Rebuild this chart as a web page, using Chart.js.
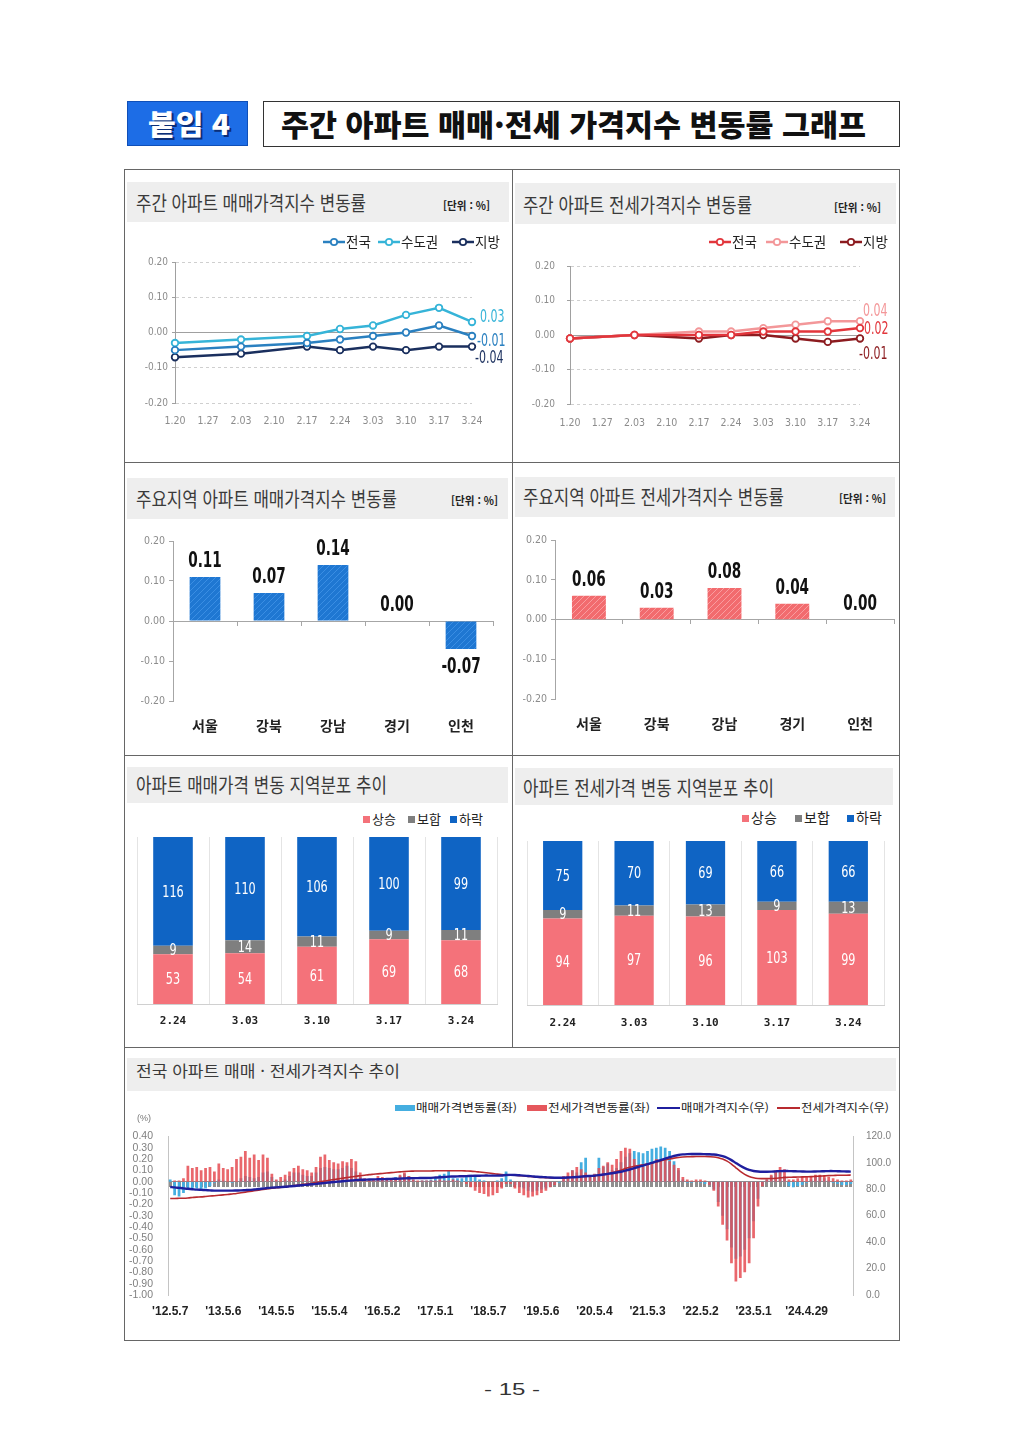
<!DOCTYPE html>
<html lang="ko">
<head>
<meta charset="utf-8">
<title>주간 아파트 매매·전세 가격지수 변동률 그래프</title>
<script src="https://cdn.jsdelivr.net/npm/chart.js@4.4.1/dist/chart.umd.min.js"></script>
<style>
html,body{margin:0;padding:0;background:#fff}
body{width:1024px;height:1447px;position:relative;overflow:hidden;font-family:"Noto Sans CJK KR","Noto Sans",sans-serif;color:#222}
.box{position:absolute;box-sizing:border-box}
canvas{position:absolute}
svg{display:block}
</style>
</head>
<body>

<div class="box" style="left:127px;top:101px;width:121px;height:45px;background:#1d6de6;border:1px solid #0f4fb8"></div>
<div class="box" style="left:263px;top:101px;width:637px;height:46px;border:1px solid #333"></div>
<div class="box" style="left:124px;top:169px;width:776px;height:1172px;border:1px solid #666"></div>
<div class="box" style="left:124px;top:462px;width:776px;height:1px;background:#666"></div>
<div class="box" style="left:124px;top:755px;width:776px;height:1px;background:#666"></div>
<div class="box" style="left:124px;top:1047px;width:776px;height:1px;background:#666"></div>
<div class="box" style="left:512px;top:169px;width:1px;height:878px;background:#666"></div>

<div class="box" style="left:127px;top:182px;width:382px;height:40px;background:#eeeeee"></div>
<div class="box" style="left:515px;top:183px;width:381px;height:41px;background:#eeeeee"></div>
<div class="box" style="left:127px;top:478px;width:381px;height:41px;background:#eeeeee"></div>
<div class="box" style="left:515px;top:477px;width:380px;height:40px;background:#eeeeee"></div>
<div class="box" style="left:127px;top:767px;width:381px;height:36px;background:#eeeeee"></div>
<div class="box" style="left:515px;top:768px;width:378px;height:37px;background:#eeeeee"></div>
<div class="box" style="left:127px;top:1058px;width:769px;height:33px;background:#eeeeee"></div>

<canvas id="saleWeekly" width="385" height="185" style="left:125px;top:250px"></canvas>
<canvas id="jeonseWeekly" width="385" height="190" style="left:512px;top:248px"></canvas>
<canvas id="saleRegionChart" width="385" height="215" style="left:125px;top:530px"></canvas>
<canvas id="jeonseRegionChart" width="385" height="215" style="left:512px;top:530px"></canvas>
<canvas id="saleDist" width="385" height="205" style="left:125px;top:830px"></canvas>
<canvas id="jeonseDist" width="385" height="200" style="left:512px;top:835px"></canvas>
<canvas id="trend" width="772" height="210" style="left:125px;top:1115px"></canvas>

<script>
// =========================
// DATA
// =========================

const weeks = ["1.20","1.27","2.03","2.10","2.17","2.24","3.03","3.10","3.17","3.24"]
const saleNation  = [-0.05,null,-0.04,null,-0.03,-0.02,-0.01,0.00,0.02,-0.01]
const saleCapital = [-0.03,null,-0.02,null,-0.01,0.01,0.02,0.05,0.07,0.03]
const saleLocal   = [-0.07,null,-0.06,null,-0.04,-0.05,-0.04,-0.05,-0.04,-0.04]
const jeonseNation  = [-0.01,null,0.00,null,0.00,0.00,0.01,0.01,0.01,0.02]
const jeonseCapital = [-0.01,null,0.00,null,0.01,0.01,0.02,0.03,0.04,0.04]
const jeonseLocal   = [-0.01,null,0.00,null,-0.01,0.00,0.00,-0.01,-0.02,-0.01]

const regions = ["서울","강북","강남","경기","인천"]
const saleRegion = [0.11,0.07,0.14,0.00,-0.07]
const jeonseRegion = [0.06,0.03,0.08,0.04,0.00]

const distWeeks = ["2.24","3.03","3.10","3.17","3.24"]
const saleUp   = [53,54,61,69,68]
const saleFlat = [9,14,11,9,11]
const saleDown = [116,110,106,100,99]
const jeonseUp   = [94,97,96,103,99]
const jeonseFlat = [9,11,13,9,13]
const jeonseDown = [75,70,69,66,66]

// monthly readings, May 2012 .. Mar 2025
const yearTicks = ["'12.5.7","'13.5.6","'14.5.5","'15.5.4","'16.5.2","'17.5.1","'18.5.7","'19.5.6","'20.5.4","'21.5.3","'22.5.2","'23.5.1","'24.4.29"]

const saleRate = [
0.02,-0.12,-0.13,-0.10,-0.07,-0.07,-0.06,-0.07,-0.06,-0.04,-0.01,0.02,
0.01,0.00,-0.01,0.00,0.03,0.05,0.04,0.03,0.04,0.08,0.09,0.04,
0.01,0.00,0.02,0.05,0.08,0.08,0.06,0.05,0.05,0.08,0.12,0.13,
0.12,0.11,0.11,0.12,0.14,0.12,0.09,0.04,0.01,0.00,0.01,0.02,
0.02,0.03,0.03,0.04,0.05,0.07,0.05,0.02,0.00,0.01,0.01,0.02,
0.04,0.06,0.07,0.10,0.03,0.03,0.03,0.04,0.06,0.04,0.02,0.01,
0.00,0.00,0.01,0.03,0.09,0.02,-0.03,-0.05,-0.06,-0.08,-0.09,-0.08,
-0.07,-0.06,-0.04,-0.02,-0.01,0.02,0.05,0.10,0.08,0.17,0.21,0.05,
0.06,0.21,0.13,0.16,0.10,0.12,0.17,0.22,0.25,0.27,0.26,0.25,
0.27,0.29,0.30,0.31,0.30,0.27,0.18,0.10,0.02,-0.01,-0.01,0.00,
-0.01,-0.02,-0.03,-0.07,-0.18,-0.30,-0.42,-0.58,-0.68,-0.66,-0.60,-0.50,
-0.35,-0.15,-0.03,0.02,0.05,0.08,0.10,0.05,-0.04,-0.05,-0.04,-0.03,
-0.01,0.02,0.04,0.05,0.03,0.01,-0.01,-0.02,-0.03,-0.03,-0.02]

const jeonseRate = [
0.00,0.01,0.01,0.03,0.14,0.12,0.13,0.10,0.12,0.13,0.09,0.16,
0.12,0.11,0.13,0.20,0.22,0.27,0.21,0.24,0.19,0.24,0.21,0.07,
0.02,0.04,0.06,0.09,0.12,0.14,0.11,0.10,0.08,0.13,0.22,0.24,
0.19,0.17,0.16,0.18,0.17,0.20,0.18,0.08,0.03,0.02,0.02,0.05,
0.04,0.02,0.02,0.02,0.06,0.08,0.05,0.02,0.01,0.01,0.01,0.01,
0.01,0.02,0.01,0.01,0.02,0.01,0.00,-0.02,-0.05,-0.08,-0.10,-0.11,
-0.13,-0.12,-0.10,-0.06,-0.02,-0.02,-0.06,-0.10,-0.12,-0.14,-0.13,-0.12,
-0.10,-0.08,-0.05,-0.03,0.00,0.05,0.08,0.10,0.13,0.11,0.08,0.05,
0.07,0.12,0.14,0.17,0.15,0.20,0.27,0.30,0.29,0.20,0.13,0.13,
0.15,0.17,0.20,0.19,0.20,0.18,0.15,0.12,0.04,0.02,0.01,0.02,
0.02,0.01,-0.03,-0.08,-0.22,-0.38,-0.52,-0.72,-0.88,-0.85,-0.80,-0.72,
-0.50,-0.22,-0.04,0.02,0.06,0.10,0.13,0.11,0.02,0.02,0.03,0.04,
0.04,0.05,0.06,0.06,0.05,0.04,0.03,0.02,0.01,0.01,0.02]

const saleIndex = [
81.7,81.4,81.0,80.6,80.3,80.0,79.7,79.5,79.3,79.1,78.9,78.9,
78.9,78.9,78.9,79.0,79.1,79.3,79.5,79.8,80.1,80.5,80.9,81.2,
81.4,81.6,81.8,82.1,82.4,82.8,83.1,83.4,83.7,84.0,84.4,84.8,
85.1,85.4,85.7,86.0,86.3,86.6,86.9,87.1,87.2,87.3,87.4,87.5,
87.6,87.7,87.8,87.9,88.0,88.2,88.3,88.4,88.4,88.5,88.5,88.6,
88.8,89.0,89.2,89.5,89.6,89.7,89.8,89.9,90.1,90.2,90.2,90.3,
90.3,90.3,90.3,90.4,90.7,90.8,90.7,90.5,90.3,90.0,89.7,89.4,
89.2,89.0,88.8,88.7,88.7,88.7,88.8,89.0,89.2,89.5,89.8,90.0,
90.2,90.6,91.1,91.6,92.1,92.6,93.2,94.0,94.9,95.9,96.9,97.9,
98.9,99.9,101.0,102.0,103.1,104.2,105.2,105.9,106.3,106.5,106.6,106.6,
106.6,106.5,106.4,106.2,105.8,105.0,103.8,102.0,99.8,97.7,95.9,94.6,
93.8,93.4,93.2,93.2,93.3,93.5,93.7,93.8,93.7,93.6,93.5,93.4,
93.3,93.3,93.4,93.5,93.6,93.7,93.7,93.6,93.5,93.4,93.3]

const jeonseIndex = [
73.0,73.0,73.1,73.2,73.4,73.7,74.0,74.2,74.5,74.8,75.1,75.4,
75.7,76.0,76.4,76.8,77.3,77.8,78.3,78.8,79.3,79.8,80.3,80.8,
81.1,81.4,81.8,82.2,82.7,83.2,83.7,84.1,84.5,85.0,85.6,86.2,
86.8,87.3,87.8,88.3,88.8,89.3,89.8,90.2,90.6,91.0,91.3,91.6,
91.9,92.2,92.5,92.8,93.1,93.4,93.6,93.7,93.8,93.8,93.8,93.8,
93.9,93.9,93.9,93.9,93.9,93.9,93.9,93.8,93.7,93.4,93.0,92.6,
92.2,91.8,91.4,91.1,90.9,90.8,90.6,90.3,90.0,89.7,89.4,89.1,
88.9,88.7,88.6,88.5,88.5,88.6,88.8,89.0,89.3,89.6,89.8,90.0,
90.2,90.6,91.1,91.7,92.4,93.3,94.4,95.6,96.6,97.3,97.9,98.5,
99.1,99.8,100.6,101.4,102.2,102.9,103.5,104.0,104.3,104.5,104.6,104.7,
104.7,104.7,104.6,104.4,103.8,102.8,101.2,99.0,96.2,93.5,91.2,89.6,
88.6,88.1,88.0,88.0,88.1,88.3,88.6,88.9,89.0,89.1,89.2,89.3,
89.4,89.5,89.7,89.9,90.1,90.3,90.4,90.5,90.6,90.6,90.7]

let months = []
for (let i = 0; i < saleRate.length; i++) {
  let t = 2012 * 12 + 4 + i
  months.push(Math.floor(t / 12) + "." + (t % 12 + 1))
}

// =========================
// PAGE TEXT
// =========================

const NARROW = "'Liberation Sans Narrow','DejaVu Sans Condensed','Liberation Sans',sans-serif"
const SANS = "'Liberation Sans',Arial,sans-serif"
const KR = "'Noto Sans CJK KR','Noto Sans',sans-serif"

function put(x, cy, str, size, w, css) {
  let s = document.createElement("span")
  s.textContent = str
  s.style.cssText = "position:absolute;left:" + x + "px;top:" + (cy - size * 0.55) + "px;font-size:" + size +
    "px;line-height:1;white-space:nowrap;transform-origin:0 0;" + (css || "")
  document.body.appendChild(s)
  if (w) {
    let r = s.getBoundingClientRect().width
    s.style.transform = "scaleX(" + (w / r) + ")"
  }
  return s
}

function lineKey(x, cy, color, str) {
  let d = document.createElement("div")
  d.style.cssText = "position:absolute;left:" + x + "px;top:" + (cy - 5) + "px;width:22px;height:10px;line-height:0"
  d.innerHTML = '<svg width="22" height="10"><line x1="0" y1="5" x2="22" y2="5" stroke="' + color +
    '" stroke-width="2.5"/><circle cx="11" cy="5" r="3.2" fill="#fff" stroke="' + color + '" stroke-width="1.8"/></svg>'
  document.body.appendChild(d)
  put(x + 23, cy, str, 13.5, 0, "color:#222")
}

function boxKey(x, cy, color, str, size) {
  let d = document.createElement("div")
  d.style.cssText = "position:absolute;left:" + x + "px;top:" + (cy - 3.5) + "px;width:7px;height:7px;background:" + color
  document.body.appendChild(d)
  put(x + 9, cy, str, size, 0, "color:#222")
}

function barKey(x, cy, w, h, color, str, tw) {
  let d = document.createElement("div")
  d.style.cssText = "position:absolute;left:" + x + "px;top:" + (cy - h / 2) + "px;width:" + w + "px;height:" + h + "px;background:" + color
  document.body.appendChild(d)
  put(x + w + 1, cy, str, 11, tw, "color:#222")
}

// header
put(148, 124, "붙임 4", 28, 82, "color:#fff;font-weight:900;text-shadow:2px 2px 0 #0b2e78")
put(281, 124, "주간 아파트 매매·전세 가격지수 변동률 그래프", 30, 585, "color:#111;font-weight:900")

// panel titles
const titleCss = "color:#3a3a3a"
put(136, 204, "주간 아파트 매매가격지수 변동률", 20, 230, titleCss)
put(523, 206, "주간 아파트 전세가격지수 변동률", 20, 229, titleCss)
put(136, 500, "주요지역 아파트 매매가격지수 변동률", 20, 261, titleCss)
put(523, 498, "주요지역 아파트 전세가격지수 변동률", 20, 261, titleCss)
put(136, 786, "아파트 매매가격 변동 지역분포 추이", 20, 251, titleCss)
put(523, 789, "아파트 전세가격 변동 지역분포 추이", 20, 251, titleCss)
put(136, 1071, "전국 아파트 매매 · 전세가격지수 추이", 16, 264, titleCss)

const unitCss = "color:#222;font-weight:700"
put(443, 206, "[단위 : %]", 11, 47, unitCss)
put(834, 208, "[단위 : %]", 11, 47, unitCss)
put(451, 501, "[단위 : %]", 11, 47, unitCss)
put(839, 499, "[단위 : %]", 11, 47, unitCss)

// legends
const saleColors = ["#2a80c0", "#36b4d8", "#1a2f5e"]
const jeonseColors = ["#e2363c", "#f39799", "#8c1b1f"]
lineKey(323, 242, saleColors[0], "전국")
lineKey(378, 242, saleColors[1], "수도권")
lineKey(452, 242, saleColors[2], "지방")
lineKey(709, 242, jeonseColors[0], "전국")
lineKey(766, 242, jeonseColors[1], "수도권")
lineKey(840, 242, jeonseColors[2], "지방")

const upColor = "#f4727a", flatColor = "#7f7f7f", downColor = "#0f64c4"
boxKey(363, 819, upColor, "상승", 13)
boxKey(408, 819, flatColor, "보합", 13)
boxKey(450, 819, downColor, "하락", 13)
boxKey(742, 818, upColor, "상승", 14)
boxKey(795, 818, flatColor, "보합", 14)
boxKey(847, 818, downColor, "하락", 14)

barKey(395, 1108, 20, 6, "#45aee0", "매매가격변동률(좌)", 101)
barKey(527, 1108, 20, 6, "#e5575c", "전세가격변동률(좌)", 102)
barKey(657, 1108, 23, 2, "#1f1f9e", "매매가격지수(우)", 88)
barKey(777, 1108, 23, 1.5, "#b82a2f", "전세가격지수(우)", 88)

put(137, 1119, "(%)", 9, 0, "color:#777;font-family:" + SANS)
put(484, 1391, "- 15 -", 16, 56, "color:#333;font-family:" + SANS)

// =========================
// CHARTS
// =========================

Chart.defaults.font.family = NARROW
Chart.defaults.color = "#808080"

// two decimals, never "-0.00"
const fmt2 = v => (Math.abs(v) < 1e-9 ? 0 : v).toFixed(2)

// condensed text, like the report's narrow digits
function narrowText(ctx, str, x, y, sx) {
  ctx.save()
  ctx.translate(x, y)
  ctx.scale(sx, 1)
  ctx.fillText(str, 0, 0)
  ctx.restore()
}

function endLabels(dx, dy) {
  return {
    id: "endLabels",
    afterDatasetsDraw(chart) {
      let ctx = chart.ctx
      ctx.save()
      ctx.font = "17px " + NARROW
      ctx.textBaseline = "middle"
      ctx.textAlign = "left"
      chart.data.datasets.forEach((ds, i) => {
        let pts = chart.getDatasetMeta(i).data
        let p = pts[pts.length - 1]
        ctx.fillStyle = ds.borderColor
        narrowText(ctx, fmt2(ds.data[ds.data.length - 1]), p.x + dx[i], p.y + dy[i], 0.72)
      })
      ctx.restore()
    }
  }
}

function weeklyChart(id, series, colors, lay, dx, dy) {
  new Chart(document.getElementById(id), {
    type: "line",
    data: {
      labels: weeks,
      datasets: series.map((s, i) => ({
        data: s,
        borderColor: colors[i],
        borderWidth: 2.5,
        pointRadius: 3.3,
        pointBorderWidth: 1.8,
        pointBackgroundColor: "#fff",
        pointBorderColor: colors[i],
        spanGaps: true,
        tension: 0
      }))
    },
    options: {
      responsive: false,
      animation: false,
      layout: { padding: { top: lay.top, right: lay.right, left: 0, bottom: 0 } },
      plugins: { legend: { display: false }, tooltip: { enabled: false } },
      scales: {
        x: {
          offset: false,
          grid: { display: false, drawTicks: false },
          border: { display: false },
          ticks: { autoSkip: false, maxRotation: 0, padding: lay.xp, color: "#8c8c8c", font: { size: 10.5 } },
          afterFit: s => { s.height = lay.xh }
        },
        xZero: {
          axis: "x", type: "category", position: { y: 0 }, offset: false,
          grid: { display: false, drawTicks: false },
          ticks: { display: false },
          border: { display: true, color: "#a0a0a0", width: 1 }
        },
        y: {
          min: -0.2, max: 0.2,
          ticks: { stepSize: 0.1, padding: lay.yp, color: "#8c8c8c", font: { size: 10 }, callback: fmt2 },
          grid: { color: "#cfcfcf", drawTicks: true, tickLength: 3, tickColor: "#a0a0a0" },
          border: { color: "#a0a0a0", dash: [3, 3] },
          afterFit: s => { s.width = lay.yw }
        }
      }
    },
    plugins: [endLabels(dx, dy)]
  })
}

weeklyChart("saleWeekly", [saleNation, saleCapital, saleLocal], saleColors,
  { top: 12, right: 38, xh: 32, xp: 12, yw: 50, yp: 4 }, [5, 8, 3], [6, -4, 12])
weeklyChart("jeonseWeekly", [jeonseNation, jeonseCapital, jeonseLocal], jeonseColors,
  { top: 12, right: 37, xh: 34, xp: 13, yw: 58, yp: 12 }, [4, 3, -1], [1, -10, 16])

function hatch(base, line) {
  let c = document.createElement("canvas")
  c.width = 6
  c.height = 6
  let g = c.getContext("2d")
  g.fillStyle = base
  g.fillRect(0, 0, 6, 6)
  g.strokeStyle = line
  g.lineWidth = 1
  g.beginPath()
  g.moveTo(0, 6); g.lineTo(6, 0)
  g.moveTo(-1, 1); g.lineTo(1, -1)
  g.moveTo(5, 7); g.lineTo(7, 5)
  g.stroke()
  return g.createPattern(c, "repeat")
}

const barValues = {
  id: "barValues",
  afterDatasetsDraw(chart) {
    let ctx = chart.ctx
    let ds = chart.data.datasets[0]
    ctx.save()
    ctx.font = "bold 21px " + NARROW
    ctx.fillStyle = "#111"
    ctx.textAlign = "center"
    chart.getDatasetMeta(0).data.forEach((bar, i) => {
      let v = ds.data[i]
      if (v < 0) {
        ctx.textBaseline = "top"
        narrowText(ctx, fmt2(v), bar.x, bar.y + 8, 0.72)
      } else {
        ctx.textBaseline = "bottom"
        narrowText(ctx, fmt2(v), bar.x, bar.y - 5, 0.72)
      }
    })
    ctx.restore()
  }
}

function regionChart(id, values, fill, lay) {
  new Chart(document.getElementById(id), {
    type: "bar",
    data: {
      labels: regions,
      datasets: [{ data: values, backgroundColor: fill, barPercentage: lay.bp, categoryPercentage: 1 }]
    },
    options: {
      responsive: false,
      animation: false,
      layout: { padding: { top: lay.top, right: lay.right, left: 0, bottom: 0 } },
      plugins: { legend: { display: false }, tooltip: { enabled: false } },
      scales: {
        x: {
          grid: { display: false, drawTicks: false },
          border: { display: false },
          ticks: { padding: 16, color: "#222", font: { family: KR, size: 14, weight: "bold" } },
          afterFit: s => { s.height = lay.xh }
        },
        xZero: {
          axis: "x", type: "category", position: { y: 0 }, offset: true,
          grid: { display: true, drawOnChartArea: false, drawTicks: true, tickLength: 4, offset: true, tickColor: "#a6a6a6" },
          ticks: { display: false },
          border: { display: true, color: "#a6a6a6", width: 1 }
        },
        y: {
          min: -0.2, max: 0.2,
          ticks: { stepSize: 0.1, padding: 4, color: "#8c8c8c", font: { size: 10.5 }, callback: fmt2 },
          grid: { display: true, drawOnChartArea: false, drawTicks: true, tickLength: 4, tickColor: "#a6a6a6" },
          border: { color: "#a6a6a6" },
          afterFit: s => { s.width = lay.yw }
        }
      }
    },
    plugins: [barValues]
  })
}

regionChart("saleRegionChart", saleRegion, hatch("#1f77d2", "#3b8ee3"), { top: 11, right: 17, xh: 44, yw: 48, bp: 0.48 })
regionChart("jeonseRegionChart", jeonseRegion, hatch("#f26b6e", "#f99d9f"), { top: 10, right: 3, xh: 46, yw: 43, bp: 0.5 })

const stackValues = {
  id: "stackValues",
  afterDatasetsDraw(chart) {
    let ctx = chart.ctx
    ctx.save()
    ctx.font = "16px " + NARROW
    ctx.fillStyle = "#fff"
    ctx.textAlign = "center"
    ctx.textBaseline = "middle"
    chart.data.datasets.forEach((ds, i) => {
      chart.getDatasetMeta(i).data.forEach((bar, j) => {
        narrowText(ctx, String(ds.data[j]), bar.x, (bar.y + bar.base) / 2 + 1, 0.78)
      })
    })
    ctx.restore()
  }
}

function distChart(id, up, flat, down, lay) {
  new Chart(document.getElementById(id), {
    type: "bar",
    data: {
      labels: distWeeks,
      datasets: [
        { label: "상승", data: up, backgroundColor: upColor, barPercentage: 0.55, categoryPercentage: 1 },
        { label: "보합", data: flat, backgroundColor: flatColor, barPercentage: 0.55, categoryPercentage: 1 },
        { label: "하락", data: down, backgroundColor: downColor, barPercentage: 0.55, categoryPercentage: 1 }
      ]
    },
    options: {
      responsive: false,
      animation: false,
      layout: { padding: { top: lay.top, right: lay.right, left: lay.left, bottom: 0 } },
      plugins: { legend: { display: false }, tooltip: { enabled: false } },
      scales: {
        x: {
          stacked: true,
          grid: { display: true, drawOnChartArea: true, drawTicks: false, offset: true, color: "#e4e4e4" },
          border: { color: "#d0d0d0" },
          ticks: { padding: lay.xp, color: "#222", font: { family: "'DejaVu Sans Mono',monospace", size: 11, weight: "bold" } },
          afterFit: s => { s.height = lay.xh }
        },
        y: { display: false, stacked: true, min: 0, max: 178 }
      }
    },
    plugins: [stackValues]
  })
}

distChart("saleDist", saleUp, saleFlat, saleDown, { top: 7, right: 13, left: 12, xh: 31, xp: 11 })
distChart("jeonseDist", jeonseUp, jeonseFlat, jeonseDown, { top: 6, right: 13, left: 15, xh: 30, xp: 12 })

new Chart(document.getElementById("trend"), {
  type: "bar",
  data: {
    labels: months,
    datasets: [
      { type: "line", label: "매매가격지수(우)", data: saleIndex, xAxisID: "x", yAxisID: "y1", borderColor: "#1f1f9e", borderWidth: 2.4, pointRadius: 0, tension: 0.3, order: 0 },
      { type: "line", label: "전세가격지수(우)", data: jeonseIndex, xAxisID: "x", yAxisID: "y1", borderColor: "#b82a2f", borderWidth: 1.6, pointRadius: 0, tension: 0.3, order: 1 },
      { label: "전세가격변동률(좌)", data: jeonseRate, xAxisID: "x", yAxisID: "y", backgroundColor: "rgba(229,76,82,0.85)", grouped: false, barPercentage: 0.62, categoryPercentage: 1, order: 2 },
      { label: "매매가격변동률(좌)", data: saleRate, xAxisID: "x", yAxisID: "y", backgroundColor: "#45aee0", grouped: false, barPercentage: 0.62, categoryPercentage: 1, order: 3 }
    ]
  },
  options: {
    responsive: false,
    animation: false,
    layout: { padding: { top: 0, right: 0, left: 0, bottom: 0 } },
    plugins: { legend: { display: false }, tooltip: { enabled: false } },
    scales: {
      x: {
        offset: true,
        grid: { display: false, drawTicks: false },
        border: { display: false },
        ticks: {
          autoSkip: false, maxRotation: 0, padding: 9, color: "#222",
          font: { family: SANS, size: 12, weight: "bold" },
          callback: (v, i) => i % 12 === 0 ? yearTicks[i / 12] : ""
        },
        afterFit: s => { s.height = 30 }
      },
      xZero: {
        axis: "x", type: "category", position: { y: 0 }, offset: true,
        grid: { display: true, drawOnChartArea: false, drawTicks: true, offset: false, tickLength: 5, tickWidth: 3, tickColor: "#8f8f8f" },
        ticks: { display: false },
        border: { display: true, color: "#8f8f8f", width: 1 }
      },
      y: {
        position: "left", min: -1, max: 0.4,
        grid: { display: false, drawTicks: false },
        border: { color: "#c4c4c4" },
        ticks: { stepSize: 0.1, autoSkip: false, padding: 15, color: "#808080", font: { family: SANS, size: 10.5 }, callback: fmt2 },
        afterFit: s => { s.width = 43 }
      },
      y1: {
        position: "right", min: 0, max: 120,
        grid: { display: false, drawTicks: false },
        border: { color: "#c4c4c4" },
        ticks: { stepSize: 20, padding: 13, color: "#808080", font: { family: SANS, size: 10 }, callback: v => v.toFixed(1) },
        afterFit: s => { s.width = 44 }
      }
    }
  }
})
</script>
</body>
</html>
